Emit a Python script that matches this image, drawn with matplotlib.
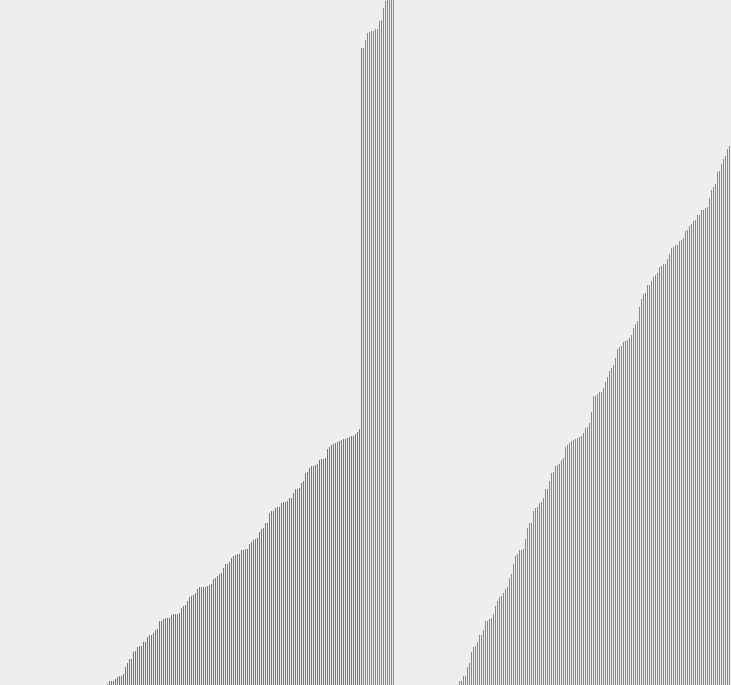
import matplotlib
matplotlib.use("Agg")
import matplotlib.pyplot as plt
import numpy as np

# ---- data (bar heights) ----
left_red = [1, 4, 4, 4, 6, 8, 9, 9, 11, 18, 22, 26, 26, 33, 34, 38, 39, 39, 43, 43,
            48, 50, 50, 52, 55, 56, 64, 64, 66, 67, 67, 67, 70, 71, 71, 71, 72, 77, 79, 80,
            84, 88, 89, 90, 92, 96, 98, 98, 98, 98, 99, 100, 101, 106, 107, 109, 111, 112, 117, 121,
            121, 123, 127, 129, 130, 131, 131, 135, 135, 136, 136, 141, 143, 145, 146, 147, 153, 156, 157, 162,
            162, 172, 174, 174, 177, 178, 178, 182, 183, 183, 184, 187, 187, 192, 196, 196, 197, 202, 204, 212,
            213, 217, 219, 219, 220, 221, 225, 226, 226, 227, 236, 238, 240, 241, 242, 243, 244, 245, 246, 246,
            247, 248, 249, 249, 251, 253, 256, 637]
left_green = [637, 645, 652, 653, 654, 654, 656, 656, 664, 665, 677, 684, 690, 700, 710, 720]

right_green = [4, 4, 9, 9, 18, 22, 33, 38, 39, 43, 50, 50, 55, 64, 64, 66, 67, 71, 79, 84,
               88, 89, 92, 96, 98, 107, 111, 121, 129, 131, 135, 135, 136, 146, 157, 162, 162, 174, 177, 178,
               182, 183, 187, 196, 196, 204, 212, 213, 219, 220, 221, 225, 227, 238, 240, 242, 244, 245, 246, 247,
               248, 249, 252, 257, 258, 262, 273, 289, 289, 291, 293, 293, 297, 303, 308, 314, 317, 320, 327, 336,
               338, 339, 343, 344, 345, 347, 350, 357, 361, 364, 378, 386, 391, 392, 400, 400, 404, 408, 410, 412,
               418, 419, 421, 421, 426, 431, 437, 438, 440, 440, 444, 445, 447, 454, 455, 459, 461, 464, 465, 470,
               470, 475, 475, 477, 478, 487, 495, 498, 501, 513, 514, 521, 526, 529, 536, 539]

RED = "#E8473D"
GREEN = "#5CA75C"
BG = "#EEEEEE"

W, H = 731, 685
DPI = 100
fig = plt.figure(figsize=(W / DPI, H / DPI), dpi=DPI, facecolor=BG)

split_px = 396
# left panel
axL = fig.add_axes([0, 0, split_px / W, 1])
# right panel
axR = fig.add_axes([split_px / W, 0, (W - split_px) / W, 1])

def draw(ax, groups, lead_slots, width_px):
    heights = []
    colors = []
    for vals, col in groups:
        heights += list(vals)
        colors += [col] * len(vals)
    heights = np.array(heights, dtype=float)
    x = np.arange(len(heights)) + lead_slots + 0.75
    ax.bar(x, heights, width=0.5, color=colors, linewidth=0, antialiased=False)
    ax.set_xlim(0, width_px / 2)
    ax.set_ylim(0, H)
    ax.set_facecolor(BG)
    ax.axis("off")

draw(axL, [(left_red, RED), (left_green, GREEN)], 53, split_px)
draw(axR, [(right_green, GREEN)], 31, W - split_px)

fig.savefig("out.png", dpi=DPI, facecolor=BG)
